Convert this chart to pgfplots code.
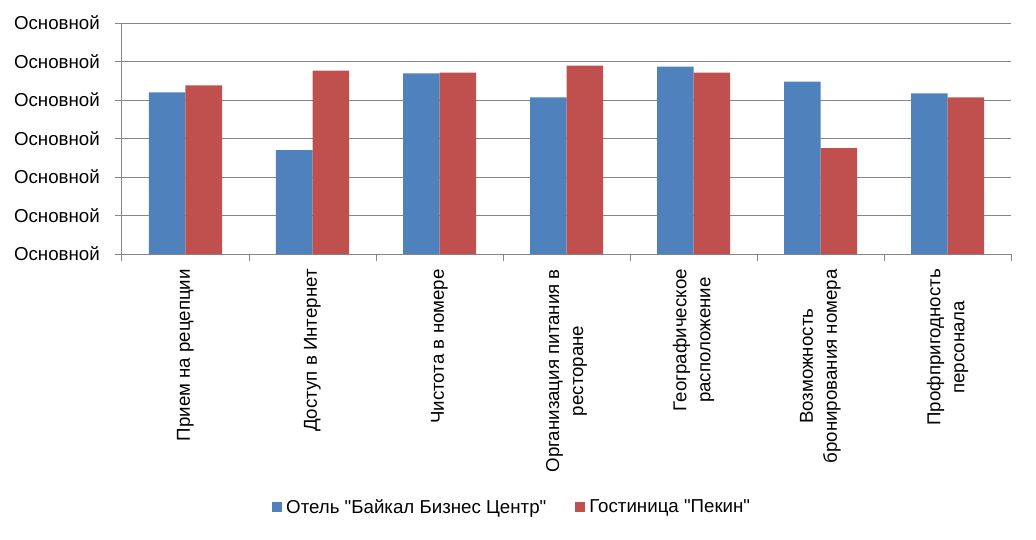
\documentclass[border=0pt]{standalone}
\usepackage{fontspec}
\setmainfont{Liberation Sans}
\newfontfamily\plainfont{Liberation Sans}
\usepackage{pgfplots}
\pgfplotsset{compat=1.18}
\definecolor{baikal}{HTML}{4F81BD}
\definecolor{pekin}{HTML}{C0504D}
\definecolor{gridgray}{HTML}{868686}
\newcommand{\lblfont}{\plainfont\fontsize{18.7}{24}\selectfont}

\begin{document}
\begin{tikzpicture}
\path[use as bounding box] (0,0) rectangle (1036pt,539pt);
\begin{axis}[
    at={(122pt,285pt)}, anchor=south west,
    scale only axis, width=889pt, height=231pt,
    ybar=0pt, bar width=36.5pt,
    xmin=-0.5, xmax=6.5, ymin=0, ymax=6,
    % boundary ticks between categories
    xtick={-0.5,0.5,...,6.5},
    xticklabels={,,,,,,,},
    extra x ticks={0,1,2,3,4,5,6},
    extra x tick labels={
        Прием на рецепции,
        Доступ в Интернет,
        Чистота в номере,
        Организация питания в\\ресторане,
        Географическое\\расположение,
        Возможность\\бронирования номера,
        Профпригодность\\персонала},
    extra x tick style={major tick length=0pt},
    xticklabel style={rotate=90, anchor=east, align=center, inner sep=0pt,
        font=\lblfont},
    xticklabel shift=15pt,
    ytick={0,1,2,3,4,5,6},
    yticklabel={Основной},
    yticklabel style={font=\lblfont, inner sep=0pt},
    yticklabel shift=15pt,
    tick align=outside, major tick length=7pt,
    tick style={gridgray, line width=1pt},
    axis x line*=bottom, axis y line*=left,
    axis line style={gridgray, line width=1pt, -},
    ymajorgrids, grid style={gridgray, line width=1pt},
    legend columns=2,
    legend style={at={(0.44,-1.095)}, anchor=center, draw=none,
        font=\lblfont, nodes={inner sep=4.5pt},
        /tikz/every even column/.append style={column sep=24pt}},
    legend image code/.code={\fill[#1] (0pt,-5pt) rectangle (10pt,5pt);},
]
\addplot[fill=baikal, draw=none] coordinates
    {(0,4.20) (1,2.70) (2,4.69) (3,4.07) (4,4.87) (5,4.48) (6,4.17)};
\addplot[fill=pekin, draw=none] coordinates
    {(0,4.38) (1,4.76) (2,4.71) (3,4.89) (4,4.71) (5,2.75) (6,4.07)};
\legend{Отель "Байкал Бизнес Центр", Гостиница "Пекин"}
\end{axis}
\end{tikzpicture}
\end{document}
